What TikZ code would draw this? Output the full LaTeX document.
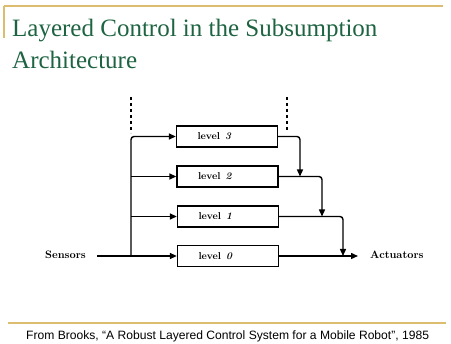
\documentclass[tikz,border=0pt]{standalone}
\usepackage{fontspec}
\newfontfamily\titlefont{Liberation Serif}
\newfontfamily\footfont{Liberation Sans}
\usetikzlibrary{arrows.meta}
\definecolor{gold}{RGB}{220,188,110}
\definecolor{titlegreen}{RGB}{30,100,66}
\newcommand{\lvltext}[1]{\makebox[101pt][l]{\hspace{21pt}level\hspace{5pt}\textit{#1}}}
\begin{document}
\begin{tikzpicture}[x=1pt,y=-1pt,
  lvl/.style={draw,line width=1.3pt,minimum width=101pt,minimum height=21pt,inner sep=0pt,font=\fontsize{10}{11}\selectfont\bfseries},
  wire/.style={line width=1.4pt},
  arr/.style={wire,-{Triangle[length=7pt,width=6pt]}},
  dashline/.style={line width=1.1pt,dash pattern=on 3pt off 3pt},
  lab/.style={font=\fontsize{10.8}{12}\selectfont\bfseries,inner sep=0pt}]
\useasboundingbox (0,0) rectangle (451,344);
% frame lines
\draw[gold,line width=1.2pt] (4,6) -- (443,6);
\draw[gold,line width=1.2pt] (4,6) -- (4,38);
\draw[gold,line width=1.2pt] (8,323) -- (446,323);
% title
\node[anchor=base west,inner sep=0pt,text=titlegreen,font=\titlefont\fontsize{25}{28}\selectfont] (t1) at (12,37) {Layered Control in the Subsumption};
\node[anchor=base west,inner sep=0pt,text=titlegreen,font=\titlefont\fontsize{25}{28}\selectfont] (t2) at (12,69) {Architecture};
% footer
\node[anchor=base west,inner sep=0pt,font=\footfont\fontsize{12.1}{14}\selectfont] (ft) at (26,340) {From Brooks, “A Robust Layered Control System for a Mobile Robot”, 1985};
% boxes
\node[lvl] (l3) at (227,136.5) {\lvltext{3}};
\node[lvl] (l2) at (227.5,176.5) {\lvltext{2}};
\node[lvl] (l1) at (228,216.5) {\lvltext{1}};
\node[lvl] (l0) at (228,256) {\lvltext{0}};
% labels
\node[lab,anchor=west] (sens) at (45,255) {Sensors};
\node[lab,anchor=west] (act) at (370,255) {Actuators};
% junctions
\coordinate (sin) at (97,256);
\coordinate (bus) at (131,256);
\coordinate (b3) at (131,136.5);
\coordinate (s2) at (300,176.5);
\coordinate (s1) at (322,216.5);
\coordinate (s0) at (343,256);
\coordinate (aout) at (358,256);
% input bus
\draw[wire] (sin) -- (bus);
\draw[arr] (bus) -- (l0.west);
\draw[arr,rounded corners=3pt] (bus) -- (b3) -- (l3.west);
\draw[arr] (b3 |- l2.west) -- (l2.west);
\draw[arr] (b3 |- l1.west) -- (l1.west);
% outputs
\draw[arr,rounded corners=3pt] (l3.east) -| (s2);
\draw[arr,rounded corners=3pt] (l2.east) -| (s1);
\draw[arr,rounded corners=3pt] (l1.east) -| (s0);
\draw[arr] (l0.east) -- (aout);
% dashed lines
\coordinate (dl1) at (131,97);
\coordinate (dl2) at (131,133);
\coordinate (dr1) at (287,97);
\coordinate (dr2) at (287,132);
\draw[dashline] (dl1) -- (dl2);
\draw[dashline] (dr1) -- (dr2);
\end{tikzpicture}
\end{document}
